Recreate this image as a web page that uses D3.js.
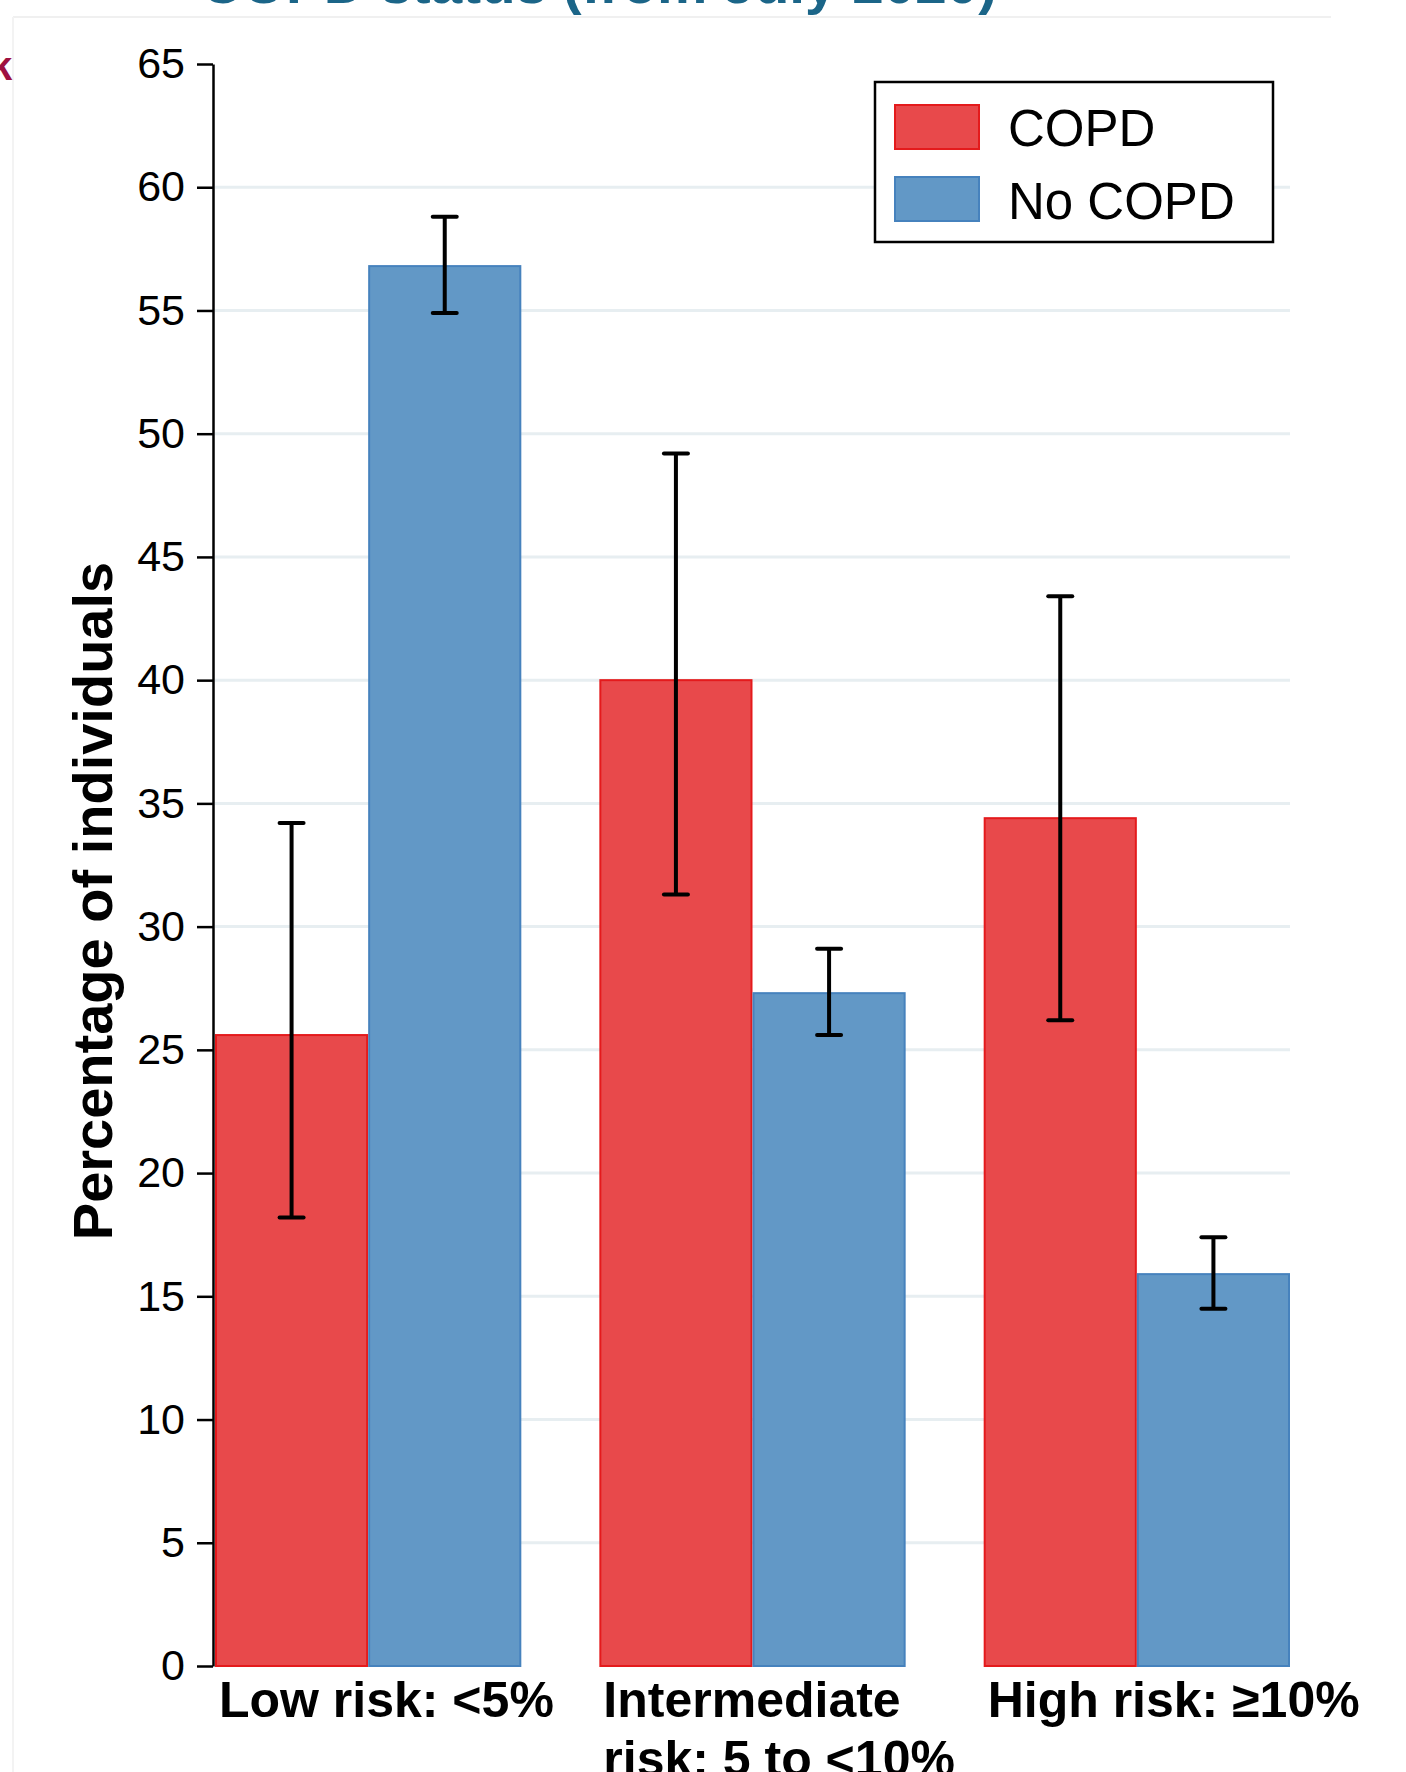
<!DOCTYPE html>
<html>
<head>
<meta charset="utf-8">
<script src="https://cdn.jsdelivr.net/npm/d3@7"></script>
<style>
  html, body { margin: 0; padding: 0; background: #ffffff; }
  svg { display: block; }
</style>
</head>
<body>
<svg id="chart" width="1406" height="1772"></svg>
<script>
// ---- data ----
const categories = ["Low risk: <5%", "Intermediate risk: 5 to <10%", "High risk: ≥10%"];
const categoryLines = [["Low risk: <5%"], ["Intermediate", "risk: 5 to <10%"], ["High risk: ≥10%"]];
const seriesNames = ["COPD", "No COPD"];
const copdValues = [25.6, 40.0, 34.4];
const copdLower = [18.2, 31.3, 26.2];
const copdUpper = [34.2, 49.2, 43.4];
const noCopdValues = [56.8, 27.3, 15.9];
const noCopdLower = [54.9, 25.6, 14.5];
const noCopdUpper = [58.8, 29.1, 17.4];
const yTicks = [0, 5, 10, 15, 20, 25, 30, 35, 40, 45, 50, 55, 60, 65];
const titleText = "COPD status (from July 2020)";
const yLabel = "Percentage of individuals";

const fills = { "COPD": "#e8494b", "No COPD": "#6298c6" };
const strokes = { "COPD": "#e41a1c", "No COPD": "#4682bd" };
const font = "'Liberation Sans', Arial, Helvetica, sans-serif";

const rows = categories.map((c, i) => ({
  cat: c,
  bars: [
    { s: "COPD", v: copdValues[i], lo: copdLower[i], hi: copdUpper[i] },
    { s: "No COPD", v: noCopdValues[i], lo: noCopdLower[i], hi: noCopdUpper[i] }
  ]
}));

const svg = d3.select("#chart");

// slide frame & cut-off context
svg.append("line").attr("x1", 13).attr("x2", 1331).attr("y1", 17).attr("y2", 17)
  .attr("stroke", "#f0f0f0").attr("stroke-width", 2);
svg.append("line").attr("x1", 13).attr("x2", 13).attr("y1", 17).attr("y2", 1772)
  .attr("stroke", "#f3f3f3").attr("stroke-width", 2);
svg.append("text").attr("x", 201).attr("y", 3)
  .attr("font-family", font).attr("font-weight", "bold").attr("font-size", 55)
  .attr("textLength", 796).attr("lengthAdjust", "spacingAndGlyphs")
  .attr("fill", "#1b6588").text(titleText);
svg.append("text").attr("x", -10).attr("y", 80)
  .attr("font-family", font).attr("font-weight", "bold").attr("font-size", 40)
  .attr("fill", "#9e1040").text("k");

// ---- scales ----
const y = d3.scaleLinear().domain([0, 65]).range([1666, 64]);
const x0 = d3.scaleBand().domain(categories).range([215, 1290]).paddingInner(0.203).paddingOuter(0);
const x1 = d3.scaleBand().domain(seriesNames).range([0, x0.bandwidth()]).padding(0);

// gridlines
svg.append("g").selectAll("line")
  .data(yTicks.filter(t => t > 0 && t < 65))
  .join("line")
  .attr("x1", 215).attr("x2", 1290)
  .attr("y1", d => y(d)).attr("y2", d => y(d))
  .attr("stroke", "#e7eef1").attr("stroke-width", 3);

// bars
const groups = svg.append("g").selectAll("g")
  .data(rows).join("g")
  .attr("transform", d => `translate(${x0(d.cat)},0)`);

groups.selectAll("rect")
  .data(d => d.bars).join("rect")
  .attr("x", d => x1(d.s) + 1)
  .attr("width", x1.bandwidth() - 2)
  .attr("y", d => y(d.v))
  .attr("height", d => y(0) - y(d.v))
  .attr("fill", d => fills[d.s])
  .attr("stroke", d => strokes[d.s])
  .attr("stroke-width", 2);

// error bars
const capW = 24;
const eb = groups.selectAll("g.eb").data(d => d.bars).join("g").attr("class", "eb");
eb.append("line")
  .attr("x1", d => x1(d.s) + x1.bandwidth() / 2).attr("x2", d => x1(d.s) + x1.bandwidth() / 2)
  .attr("y1", d => y(d.hi)).attr("y2", d => y(d.lo))
  .attr("stroke", "#000").attr("stroke-width", 4);
["hi", "lo"].forEach(k => {
  eb.append("line")
    .attr("x1", d => x1(d.s) + x1.bandwidth() / 2 - capW / 2)
    .attr("x2", d => x1(d.s) + x1.bandwidth() / 2 + capW / 2)
    .attr("y1", d => y(d[k])).attr("y2", d => y(d[k]))
    .attr("stroke", "#000").attr("stroke-width", 4).attr("stroke-linecap", "round");
});

// y axis
const yAxis = d3.axisLeft(y).tickValues(yTicks).tickSize(16).tickPadding(12).tickSizeOuter(0);
const ag = svg.append("g").attr("transform", "translate(213,0)").call(yAxis);
ag.select(".domain").attr("stroke", "#000").attr("stroke-width", 2.5);
ag.selectAll(".tick line").attr("stroke", "#000").attr("stroke-width", 2.5);
ag.selectAll(".tick text").attr("font-family", font).attr("font-size", 43).attr("fill", "#000");

// y label
svg.append("text")
  .attr("transform", "translate(112,901) rotate(-90)")
  .attr("text-anchor", "middle")
  .attr("font-family", font).attr("font-weight", "bold").attr("font-size", 56)
  .attr("fill", "#000").text(yLabel);

// x labels
categories.forEach((c, i) => {
  const t = svg.append("text")
    .attr("font-family", font).attr("font-weight", "bold").attr("font-size", 50)
    .attr("fill", "#000");
  categoryLines[i].forEach((ln, j) => {
    t.append("tspan").attr("x", x0(c) + 4).attr("y", 1717 + j * 59).text(ln);
  });
});

// legend
const lg = svg.append("g");
lg.append("rect").attr("x", 875).attr("y", 82).attr("width", 398).attr("height", 160)
  .attr("fill", "#fff").attr("stroke", "#000").attr("stroke-width", 2.5);
seriesNames.forEach((s, i) => {
  lg.append("rect").attr("x", 895).attr("y", 105 + i * 72).attr("width", 84).attr("height", 44)
    .attr("fill", fills[s]).attr("stroke", strokes[s]).attr("stroke-width", 2);
  lg.append("text").attr("x", 1008).attr("y", 146 + i * 73)
    .attr("font-family", font).attr("font-size", 51).attr("fill", "#000").text(s);
});
</script>
</body>
</html>
